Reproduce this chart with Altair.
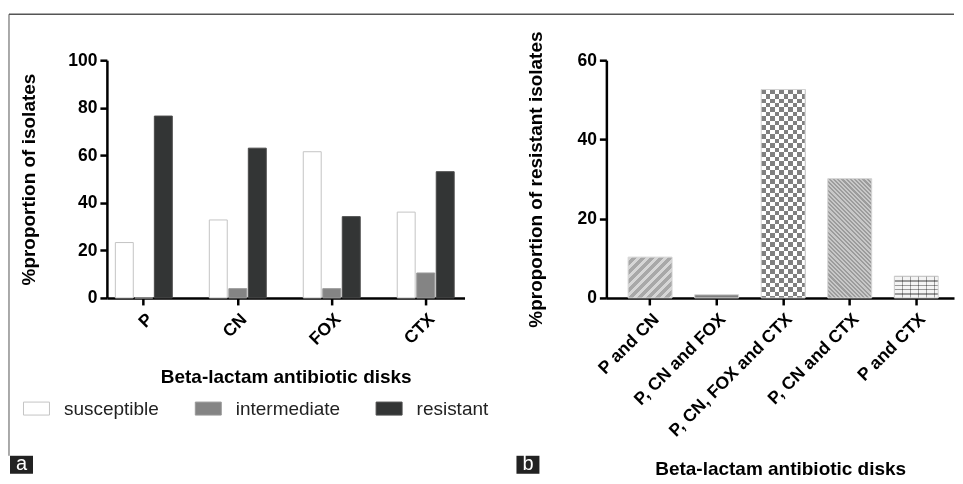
import math
import altair as alt
import pandas as pd

# ---------------- data ----------------
antibiotics = ["P", "CN", "FOX", "CTX"]
categories = ["susceptible", "intermediate", "resistant"]
susceptible = [23.3, 32.8, 61.5, 36.1]
intermediate = [0.0, 3.9, 3.9, 10.5]
resistant = [76.5, 63.0, 34.2, 53.1]

combos = ["P and CN", "P, CN and FOX", "P, CN, FOX and CTX", "P, CN and CTX", "P and CTX"]
combo_values = [10.3, 0.8, 52.6, 30.1, 5.5]

# ---------------- layout / style ----------------
FONT = "Liberation Sans"
A_W, A_H = 358, 238
B_W, B_H = 348, 238
B_YMAX = 60
B_PI, B_PO = 0.34, 0.282
B_STEP = B_W / (len(combos) - B_PI + 2 * B_PO)
B_BW = B_STEP * (1 - B_PI)

rows = []
for i, ab in enumerate(antibiotics):
    for cat, vals in zip(categories, [susceptible, intermediate, resistant]):
        rows.append({"disk": ab, "status": cat, "pct": vals[i]})
df_a = pd.DataFrame(rows)
df_b = pd.DataFrame({"combo": combos, "pct": combo_values})

one = alt.Data(values=[{}])


def grad(stops, x1, y1, x2, y2):
    return alt.LinearGradient(
        gradient="linear",
        stops=[alt.GradientStop(offset=o, color=c) for o, c in stops],
        x1=x1, y1=y1, x2=x2, y2=y2,
    )


def stripe_stops(c1, c2, n, frac=0.5):
    s = []
    for i in range(n):
        a, b, c = i / n, (i + frac) / n, (i + 1) / n
        s += [(a, c1), (b, c1), (b, c2), (c, c2)]
    return s


def diag(c1, c2, w, h, period, frac=0.5, down=False):
    n = int(math.ceil((w + h) / period))
    k = n * period / (w * w + h * h)
    if down:
        return grad(stripe_stops(c1, c2, n, frac), 0, 1, k * w, 1 - k * h)
    return grad(stripe_stops(c1, c2, n, frac), 0, 0, k * w, k * h)


def vstripes(c1, c2, w, period, frac=0.5):
    n = int(math.ceil(w / period))
    return grad(stripe_stops(c1, c2, n, frac), 0, 0, n * period / w, 0)


def hstripes(c1, c2, h, period, frac=0.5):
    n = int(math.ceil(h / period))
    return grad(stripe_stops(c1, c2, n, frac), 0, 0, 0, n * period / h)


def bar_h(v):
    return v / B_YMAX * B_H


# ---------------- panel a ----------------
x_a = alt.X(
    "disk:N", sort=antibiotics,
    scale=alt.Scale(paddingInner=0.394, paddingOuter=0.1, align=0.45),
    axis=alt.Axis(title="Beta-lactam antibiotic disks", labelAngle=-45, titlePadding=20),
)
y_a = alt.Y(
    "pct:Q", scale=alt.Scale(domain=[0, 100], nice=False),
    axis=alt.Axis(values=[0, 20, 40, 60, 80, 100], title="%proportion of isolates", titlePadding=29),
)
leg = alt.Legend(
    title=None, orient="none", direction="horizontal", legendX=-84, legendY=335,
    symbolType="M-1,-0.5H1V0.5H-1Z", symbolSize=676, symbolStrokeWidth=1,
    labelFont=FONT, labelFontSize=19, labelColor="#222", labelOffset=14, columnPadding=33,
)
bars_a = alt.Chart(df_a).mark_bar(strokeWidth=1).encode(
    x=x_a, y=y_a,
    xOffset=alt.XOffset("status:N", sort=categories, scale=alt.Scale(paddingInner=0.08, paddingOuter=0)),
    fill=alt.Fill("status:N", sort=categories,
                  scale=alt.Scale(domain=categories, range=["#ffffff", "#848484", "#333535"]), legend=leg),
    stroke=alt.Stroke("status:N", sort=categories,
                      scale=alt.Scale(domain=categories, range=["#c4c4c4", "#9a9a9a", "#4a4a4a"]), legend=leg),
)
frame_top = alt.Chart(one).mark_rule(color="#555555", strokeWidth=1.5).encode(
    x=alt.value(-98), x2=alt.value(848), y=alt.value(-46))
frame_left = alt.Chart(one).mark_rule(color="#555555", strokeWidth=1).encode(
    x=alt.value(-98), y=alt.value(-46), y2=alt.value(396))
box_a = alt.Chart(one).mark_rect(color="#222222").encode(
    x=alt.value(-97), x2=alt.value(-74), y=alt.value(396), y2=alt.value(414))
txt_a = alt.Chart(one).mark_text(color="white", font=FONT, fontSize=20, align="center", baseline="middle").encode(
    x=alt.value(-85.5), y=alt.value(404), text=alt.value("a"))

panel_a = alt.layer(bars_a, frame_top, frame_left, box_a, txt_a).properties(width=A_W, height=A_H)

# ---------------- panel b ----------------
x_b = alt.X(
    "combo:N", sort=combos,
    scale=alt.Scale(paddingInner=B_PI, paddingOuter=B_PO, align=0.58),
    axis=alt.Axis(title="Beta-lactam antibiotic disks", labelAngle=-45, titlePadding=20),
)
y_b = alt.Y(
    "pct:Q", scale=alt.Scale(domain=[0, B_YMAX], nice=False),
    axis=alt.Axis(values=[0, 20, 40, 60], title="%proportion of resistant isolates", titlePadding=31),
)
base_b = alt.Chart(df_b).encode(x=x_b, y=y_b)


def only(name):
    return alt.datum.combo == name


w = B_BW
h0, h1, h2, h3, h4 = [bar_h(v) for v in combo_values]

layers_b = [
    # P and CN : wide up-right stripes
    base_b.mark_bar(fill=diag("#d6d6d6", "#a8a8a8", w, h0, 9.0)).transform_filter(only(combos[0])),
    # P, CN and FOX : small dark bar
    base_b.mark_bar(fill="#7e7e7e").transform_filter(only(combos[1])),
    # P, CN, FOX and CTX : checkerboard
    base_b.mark_bar(fill=vstripes("#ffffff", "#000000", w, 9.0)).transform_filter(only(combos[2])),
    base_b.mark_bar(fill=hstripes("#ffffff", "#000000", h2, 9.0), blend="difference").transform_filter(only(combos[2])),
    base_b.mark_bar(fill="#ffffff", opacity=0.5).transform_filter(only(combos[2])),
    # P, CN and CTX : fine down-right stripes
    base_b.mark_bar(fill=diag("#c8c8c8", "#9c9c9c", w, h3, 4.2, down=True)).transform_filter(only(combos[3])),
    # P and CTX : bricks
    base_b.mark_bar(fill=hstripes("#9a9a9a", "#f4f4f4", h4, 4.3, frac=0.28)).transform_filter(only(combos[4])),
    base_b.mark_bar(fill=vstripes("#a8a8a8", "#ffffff", w, 8.0, frac=0.14), blend="multiply").transform_filter(only(combos[4])),
    # light outline on all bars
    base_b.mark_bar(fill="transparent", stroke="#d4d4d4", strokeWidth=1),
]
box_b = alt.Chart(one).mark_rect(color="#222222").encode(
    x=alt.value(-90), x2=alt.value(-67), y=alt.value(396), y2=alt.value(414))
txt_b = alt.Chart(one).mark_text(color="white", font=FONT, fontSize=20, align="center", baseline="middle").encode(
    x=alt.value(-78.5), y=alt.value(404), text=alt.value("b"))

panel_b = alt.layer(*layers_b, box_b, txt_b).properties(width=B_W, height=B_H)

# ---------------- compose ----------------
chart = (
    alt.hconcat(panel_a, panel_b, spacing=142, bounds="flush")
    .configure(padding={"left": 0, "top": 5, "right": 0, "bottom": 0}, font=FONT)
    .configure_view(strokeWidth=0)
    .configure_axis(
        domainColor="black", domainWidth=2.5, tickColor="black", tickWidth=2.5, tickSize=7,
        labelFont=FONT, labelFontSize=17.5, labelFontWeight="bold", labelColor="black", labelPadding=3,
        titleFont=FONT, titleFontSize=19, titleFontWeight="bold", titleColor="black", grid=False,
    )
    .configure_axisX(labelPadding=5)
)

chart.save("out.html", embed_options={"renderer": "svg", "actions": False})
